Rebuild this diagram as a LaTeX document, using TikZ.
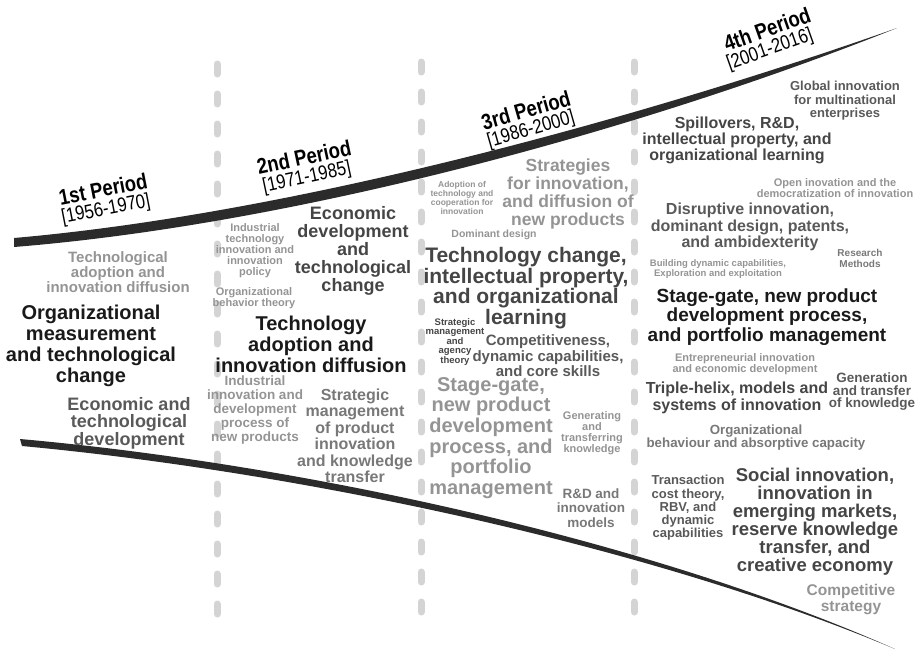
\documentclass[tikz,border=0pt]{standalone}
\usepackage{fontspec}
\setmainfont{Liberation Sans}
\newfontfamily\erafont{Liberation Sans}[FakeStretch=0.84]

\definecolor{inkA}{gray}{0.10}
\definecolor{inkB}{gray}{0.27}
\definecolor{inkC}{gray}{0.35}
\definecolor{inkD}{gray}{0.47}
\definecolor{inkE}{gray}{0.58}
\definecolor{bandgray}{gray}{0.17}
\definecolor{sepgray}{gray}{0.83}

\tikzset{
  topic/.style={align=center, inner sep=0pt},
  fs/.style 2 args={font=\bfseries\fontsize{#1}{#2}\selectfont},
  era/.style={inner sep=0pt, font=\erafont\bfseries\fontsize{22}{22}\selectfont},
  eryears/.style={inner sep=0pt, font=\erafont\fontsize{20}{20}\selectfont},
  sep/.style={line width=7pt, line cap=round, dash pattern=on 10pt off 20pt, color=sepgray},
  band/.style={fill=bandgray, draw=none}
}

\begin{document}
\begin{tikzpicture}[x=1pt, y=-1pt]
\useasboundingbox (0,0) rectangle (921,654);

\draw[sep] (217,64) -- (217,632);
\draw[sep] (421,62) -- (421,632);
\draw[sep] (634,62) -- (634,632);

\fill[band] (14,238) .. controls (300,213) and (650,115) .. (897,28)
  .. controls (650,127) and (300,224) .. (14,247) -- cycle;
\fill[band] (20,439) -- (22,446) .. controls (300,472) and (650,546) .. (895,649)
  .. controls (650,540) and (300,464) .. (20,439) -- cycle;

\node[era, rotate=11] (t1) at (103,189) {1st Period};
\node[eryears, rotate=11] (y1) at (106,210) {[1956-1970]};
\node[topic, fs={15}{15}, text=inkE] (adopt1) at (118,272) {Technological\\adoption and\\innovation diffusion};
\node[topic, fs={20}{21}, text=inkA] (orgmeas1) at (91,346) {Organizational\\measurement\\and technological\\change};
\node[topic, fs={18}{17.5}, text=inkC] (econ1) at (129,423) {Economic and\\technological\\development};

\node[era, rotate=12] (t2) at (304,157) {2nd Period};
\node[eryears, rotate=12] (y2) at (307,178) {[1971-1985]};
\node[topic, fs={18}{18}, text=inkB] (econ2) at (353,251) {Economic\\development\\and\\technological\\change};
\node[topic, fs={11}{11}, text=inkE] (indpol2) at (255,251) {Industrial\\technology\\innovation and\\innovation\\policy};
\node[topic, fs={11}{10.5}, text=inkE] (orgbeh2) at (254,298) {Organizational\\behavior theory};
\node[topic, fs={20}{21}, text=inkA] (adopt2) at (311,344) {Technology\\adoption and\\innovation diffusion};
\node[topic, fs={13.5}{14}, text=inkE] (npd2) at (255,410) {Industrial\\innovation and\\development\\process of\\new products};
\node[topic, fs={16}{16.5}, text=inkD] (strat2) at (355,436) {Strategic\\management\\of product\\innovation\\and knowledge\\transfer};

\node[era, rotate=16] (t3) at (526,110) {3rd Period};
\node[eryears, rotate=16] (y3) at (531,130) {[1986-2000]};
\node[topic, fs={17.5}{18.3}, text=inkE] (strat3) at (568,194) {Strategies\\for innovation,\\and diffusion of\\new products};
\node[topic, fs={8.5}{7.5}, text=inkE] (coop3) at (462,198) {Adoption of\\technology and\\cooperation for\\innovation};
\node[topic, fs={10.5}{10.5}, text=inkE] (domdes3) at (494,235) {Dominant design};
\node[topic, fs={21}{18.5}, text=inkB] (techchg3) at (526,288) {Technology change,\\intellectual property,\\and organizational\\learning};
\node[topic, fs={9.5}{9.5}, text=inkB] (agency3) at (455,342) {Strategic\\management\\and\\agency\\theory};
\node[topic, fs={15}{15.5}, text=inkC] (comp3) at (548,356) {Competitiveness,\\dynamic capabilities,\\and core skills};
\node[topic, fs={20}{20.6}, text=inkE] (stage3) at (491,438) {Stage-gate,\\new product\\development\\process, and\\portfolio\\management};
\node[topic, fs={11}{11}, text=inkE] (gen3) at (592,433) {Generating\\and\\transferring\\knowledge};
\node[topic, fs={13.5}{14.5}, text=inkD] (rd3) at (591,508) {R\&D and\\innovation\\models};

\node[era, rotate=19.5] (t4) at (767,29) {4th Period};
\node[eryears, rotate=19.5] (y4) at (770,50) {[2001-2016]};
\node[topic, fs={13}{13.5}, text=inkC] (global4) at (845,101) {Global innovation\\for multinational\\enterprises};
\node[topic, fs={16}{14.5}, text=inkB] (spill4) at (737,140) {Spillovers, R\&D,\\intellectual property, and\\organizational learning};
\node[topic, fs={11}{10.5}, text=inkE] (open4) at (835,188) {Open inovation and the\\democratization of innovation};
\node[topic, fs={16}{16.5}, text=inkC] (disr4) at (750,227) {Disruptive innovation,\\dominant design, patents,\\and ambidexterity};
\node[topic, fs={10}{11}, text=inkD] (research4) at (860,258) {Research\\Methods};
\node[topic, fs={9.5}{10}, text=inkE] (build4) at (718,269) {Building dynamic capabilities,\\Exploration and exploitation};
\node[topic, fs={19}{19.5}, text=inkA] (stage4) at (767,317) {Stage-gate, new product\\development process,\\and portfolio management};
\node[topic, fs={11}{11}, text=inkE] (entre4) at (745,364) {Entrepreneurial innovation\\and economic development};
\node[topic, fs={16}{17}, text=inkB] (triple4) at (737,398) {Triple-helix, models and\\systems of innovation};
\node[topic, fs={13.5}{12.5}, text=inkC] (gentr4) at (872,392) {Generation\\and transfer\\of knowledge};
\node[topic, fs={13.3}{13}, text=inkD] (orgbeh4) at (756,438) {Organizational\\behaviour and absorptive capacity};
\node[topic, fs={13}{13.3}, text=inkC] (trans4) at (688,508) {Transaction\\cost theory,\\RBV, and\\dynamic\\capabilities};
\node[topic, fs={18.5}{18}, text=inkB] (social4) at (815,522) {Social innovation,\\innovation in\\emerging markets,\\reserve knowledge\\transfer, and\\creative economy};
\node[topic, fs={15.5}{16}, text=inkE] (comp4) at (851,600) {Competitive\\strategy};
\end{tikzpicture}
\end{document}
